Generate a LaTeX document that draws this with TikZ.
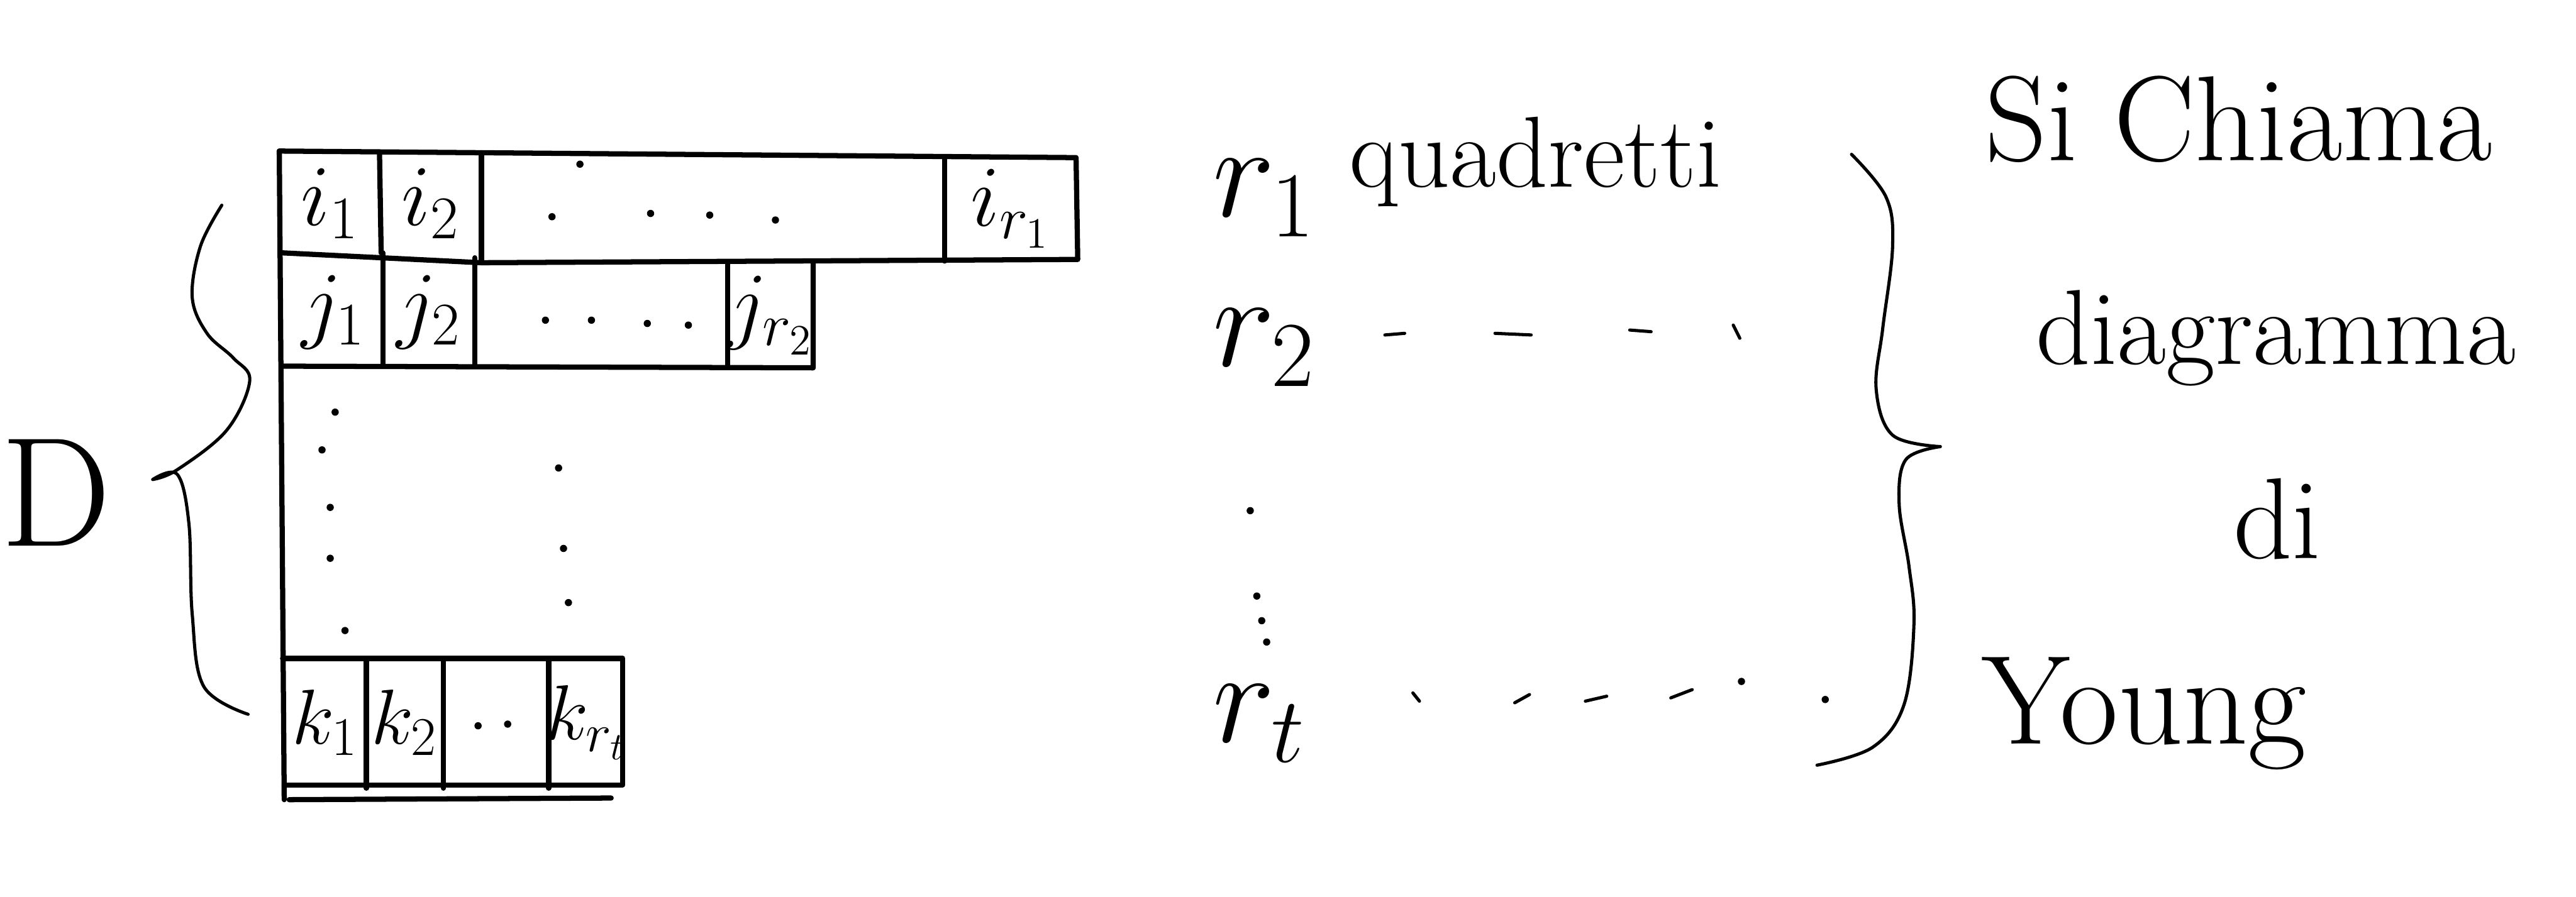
\documentclass[tikz,border=0pt]{standalone}
\usepackage{fix-cm}
\usepackage{amsmath,amssymb}
\usepackage{tikz}
\usetikzlibrary{positioning}

\begin{document}
\begin{tikzpicture}[
  x=0.02cm, y=-0.02cm,
  grid/.style={line width=1.8pt, line cap=round, line join=round},
  pen/.style={line width=1.1pt, line cap=round, line join=round},
  cellnum/.style={inner sep=0pt, font=\fontsize{30}{30}\selectfont},
  rowlen/.style={inner sep=0pt, anchor=base west, font=\fontsize{46}{46}\selectfont},
  words/.style={inner sep=0pt, anchor=base west}
]
\useasboundingbox (0,0) rectangle (1568,546);

% the diagram D
\draw[grid] (170,92) -- (655,96) -- (656,158) -- (293,160) -- (172,154);
\draw[grid] (231,93) -- (232,154);
\draw[grid] (293,93) -- (293,159);
\draw[grid] (575,96) -- (575,159);
\draw[grid] (170,92) -- (173,487);
\draw[grid] (233,154) -- (233,223);
\draw[grid] (289,157) -- (289,223);
\draw[grid] (443,160) -- (443,223);
\draw[grid] (495,160) -- (495,224) -- (172,223);
\draw[grid] (172,401) -- (379,401) -- (379,478) -- (173,478);
\draw[grid] (223,401) -- (223,480);
\draw[grid] (270,401) -- (270,480);
\draw[grid] (334,401) -- (334,480);
\draw[grid] (176,487) -- (372,486);

\node[cellnum] (i1) at (201,124) {$i_1$};
\node[cellnum] (i2) at (262,124) {$i_2$};
\node[cellnum] (ir) at (615,127) {$i_{r_1}$};
\node[cellnum] (j1) at (203,190) {$j_1$};
\node[cellnum] (j2) at (261,190) {$j_2$};
\node[cellnum] (jr) at (469,192) {$j_{r_2}$};
\node[cellnum, font=\fontsize{27}{27}\selectfont] (k1) at (198,440) {$k_1$};
\node[cellnum, font=\fontsize{27}{27}\selectfont] (k2) at (246,440) {$k_2$};
\node[cellnum, font=\fontsize{27}{27}\selectfont] (kr) at (357,440) {$k_{r_t}$};

\foreach \p in {(353,100),(336,132),(396,130),(432,131),(472,134),
                (332,195),(360,195),(394,197),(419,198),
                (204,251),(196,274),(201,309),(201,340),(210,384),
                (340,285),(343,334),(346,367),(291,442),(309,441)}
  \fill \p circle (2.2);

% braces
\draw[pen] plot[smooth, tension=0.6] coordinates {(135,125) (122,150) (117,181) (126,203) (142,218) (152,232) (138,262) (108,286) (93,292)};
\draw[pen] plot[smooth, tension=0.6] coordinates {(93,292) (108,289) (115,319) (117,374) (124,418) (151,435)};
\node[inner sep=0pt, font=\fontsize{54}{54}\selectfont] (D) at (34,300) {D};

\draw[pen] plot[smooth, tension=0.6] coordinates {(1127,94) (1148,120) (1152,150) (1146,200) (1142,237) (1152,265) (1181,272)};
\draw[pen] plot[smooth, tension=0.6] coordinates {(1181,272) (1160,280) (1156,307) (1162,345) (1165,380) (1159,429) (1140,455) (1106,466)};

% row lengths
\node[rowlen] (r1) at (738,132) {$r_1$};
\node[words, font=\fontsize{35}{35}\selectfont] (qd) at (821,114) {quadretti};
\node[rowlen] (r2) at (738,223) {$r_2$};
\node[rowlen] (rt) at (738,452) {$r_t$};

\draw[pen] (843,204) -- (855,203);
\draw[pen] (910,203) -- (932,204);
\draw[pen] (992,201) -- (1005,202);
\draw[pen] (1055,198) -- (1059,206);
\foreach \p in {(761,311),(765,363),(768,378),(771,391),(1060,415),(1111,426)}
  \fill \p circle (2.2);
\draw[pen] (860,422) -- (864,427);
\draw[pen] (922,428) -- (931,423);
\draw[pen] (965,427) -- (978,424);
\draw[pen] (1017,425) -- (1030,420);

% name
\node[words, font=\fontsize{42}{42}\selectfont] (si) at (1208,98) {Si Chiama};
\node[words, font=\fontsize{37}{37}\selectfont] (dg) at (1239,222) {diagramma};
\node[words, font=\fontsize{40}{40}\selectfont] (di) at (1359,340) {di};
\node[words, font=\fontsize{44}{44}\selectfont] (yg) at (1206,453) {Young};
\end{tikzpicture}
\end{document}
